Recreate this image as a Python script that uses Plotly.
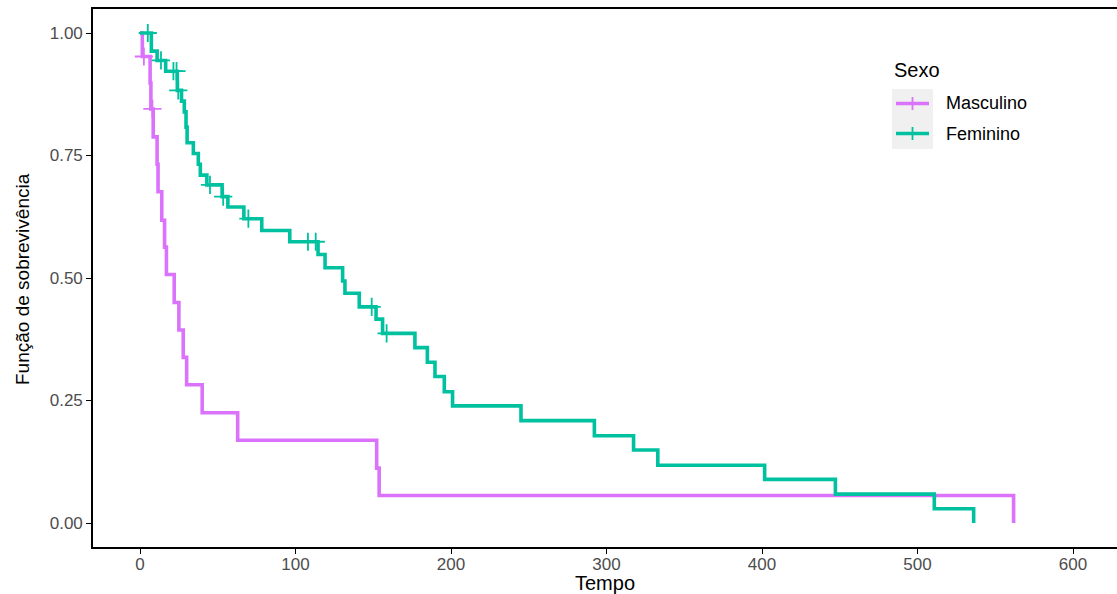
import plotly.graph_objects as go

# ---------------- data ----------------
groups = ["Masculino", "Feminino"]
colors = ["#DB72FB", "#00C19F"]

masc_time = [0, 1.5, 6.5, 7, 8.5, 11, 11.6, 14, 15.8, 17, 22, 25, 27.8, 30, 40, 62.8, 152.2, 153.8, 561.8]
masc_surv = [1.0, 0.952, 0.898, 0.845, 0.788, 0.732, 0.676, 0.618, 0.563, 0.507, 0.450, 0.394, 0.338,
             0.282, 0.225, 0.169, 0.112, 0.056, 0.0]
masc_cens_time = [2.5, 8.0]
masc_cens_surv = [0.952, 0.845]

fem_time = [0, 7.3, 11, 16.5, 24, 26.7, 28.5, 29.6, 30.3, 34.3, 37.5, 38.8, 43, 52.8, 56.5, 66.8, 78.3,
            96.3, 114.5, 119, 130.3, 131.8, 141, 151.8, 156, 176.8, 184.8, 189.7, 195.7, 201, 245,
            292.2, 317.4, 333, 401.7, 447.2, 510.8, 536.1]
fem_surv = [1.0, 0.963, 0.944, 0.922, 0.883, 0.861, 0.839, 0.808, 0.776, 0.754, 0.732, 0.710, 0.690,
            0.666, 0.645, 0.621, 0.597, 0.574, 0.548, 0.521, 0.494, 0.469, 0.441, 0.416, 0.387, 0.358,
            0.328, 0.299, 0.268, 0.239, 0.209, 0.178, 0.149, 0.118, 0.089, 0.059, 0.029, 0.0]
fem_cens_time = [5, 13.5, 21.5, 23.5, 24.6, 45, 53.5, 69.7, 108, 113, 149, 158.6]
fem_cens_surv = [1.0, 0.944, 0.922, 0.922, 0.883, 0.690, 0.666, 0.621, 0.574, 0.574, 0.441, 0.387]

x_ticks = [0, 100, 200, 300, 400, 500, 600]
y_ticks = [0.0, 0.25, 0.50, 0.75, 1.00]
y_tick_text = ["0.00", "0.25", "0.50", "0.75", "1.00"]

x_title = "Tempo"
y_title = "Função de sobrevivência"
legend_title = "Sexo"

# ---------------- figure ----------------
W, H = 1117, 594
PL, PR, PT, PB = 93, 1117, 9, 547          # plot area in page pixels
ML, MR, MT, MB = PL, W - PR, PT, H - PB
PW, PH = PR - PL, PB - PT
FONT = "Liberation Sans, Arial, sans-serif"


def px_x(p):
    return (p - PL) / PW


def px_y(p):
    return (PB - p) / PH


fig = go.Figure()

series = [
    (masc_time, masc_surv, masc_cens_time, masc_cens_surv),
    (fem_time, fem_surv, fem_cens_time, fem_cens_surv),
]
for name, col, (t, s, ct, cs) in zip(groups, colors, series):
    fig.add_trace(go.Scatter(
        x=t, y=s, mode="lines", name=name,
        line=dict(color=col, width=3.6, shape="hv"),
        showlegend=False, hoverinfo="x+y",
    ))
    fig.add_trace(go.Scatter(
        x=ct, y=cs, mode="markers", name=name + " (censura)",
        marker=dict(symbol="cross-thin", size=13, line=dict(color=col, width=1.8)),
        showlegend=False, hoverinfo="x+y",
    ))

shapes = []
annotations = []

# manual legend (ggplot-like)
shapes.append(dict(type="rect", xref="paper", yref="paper",
                   x0=px_x(892), x1=px_x(933), y0=px_y(149), y1=px_y(89),
                   fillcolor="#F0F0F0", line=dict(width=0), layer="below"))
annotations.append(dict(text=legend_title, xref="paper", yref="paper",
                        x=px_x(892), y=px_y(70), xanchor="left", yanchor="middle",
                        showarrow=False, font=dict(family=FONT, size=20, color="black")))
for i, (name, col) in enumerate(zip(groups, colors)):
    yc = 103.5 + 30 * i
    shapes.append(dict(type="line", xref="paper", yref="paper",
                       x0=px_x(896), x1=px_x(929), y0=px_y(yc), y1=px_y(yc),
                       line=dict(color=col, width=3.6)))
    shapes.append(dict(type="line", xref="paper", yref="paper",
                       x0=px_x(912.5), x1=px_x(912.5), y0=px_y(yc - 6.5), y1=px_y(yc + 6.5),
                       line=dict(color=col, width=1.8)))
    annotations.append(dict(text=name, xref="paper", yref="paper",
                            x=px_x(944), y=px_y(yc), xanchor="left", yanchor="middle",
                            showarrow=False, font=dict(family=FONT, size=18, color="black")))

# axis titles
annotations.append(dict(text=x_title, xref="paper", yref="paper", x=0.5, y=0,
                        xanchor="center", yanchor="middle", yshift=-(582.5 - PB),
                        showarrow=False, font=dict(family=FONT, size=20, color="black")))
annotations.append(dict(text=y_title, xref="paper", yref="paper", x=0, y=px_y(279),
                        xanchor="center", yanchor="middle", xshift=22 - PL, textangle=-90,
                        showarrow=False, font=dict(family=FONT, size=19, color="black")))

fig.update_layout(
    width=W, height=H,
    margin=dict(l=ML, r=MR, t=MT, b=MB, pad=0),
    paper_bgcolor="white", plot_bgcolor="white",
    font=dict(family=FONT),
    showlegend=False,
    shapes=shapes, annotations=annotations,
    xaxis=dict(range=[(PL - 140) / 1.555, (PR - 140) / 1.555], tickvals=x_ticks, ticks="outside",
               ticklen=5, tickwidth=1.3, ticklabelstandoff=-4,
               tickcolor="black", showline=True, linecolor="black", linewidth=1.6, mirror=True,
               showgrid=False, zeroline=False,
               tickfont=dict(family=FONT, size=17, color="#4D4D4D")),
    yaxis=dict(range=[-(PB - 523) / 490, 1 + (33 - PT) / 490], tickvals=y_ticks,
               ticktext=y_tick_text, ticks="outside",
               ticklen=5, tickwidth=1.3, tickcolor="black", showline=True, linecolor="black",
               linewidth=1.6, showgrid=False, zeroline=False,
               tickfont=dict(family=FONT, size=17, color="#4D4D4D")),
)

# remove the default 8px page margin so the figure fills the window exactly
fig.write_html(
    "out.html",
    config={"displayModeBar": False},
    post_script="document.body.style.margin='0';document.body.style.overflow='hidden';",
)
